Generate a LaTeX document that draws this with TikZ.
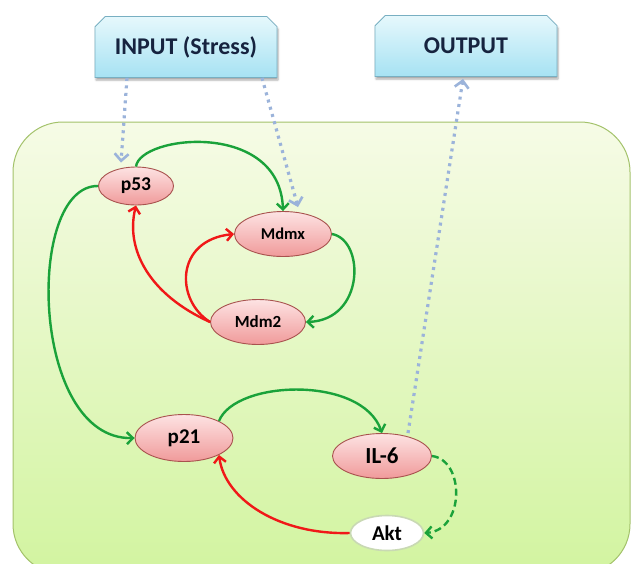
\documentclass[tikz,border=0pt]{standalone}
\usepackage{fontspec}
\setmainfont{Carlito}
\usetikzlibrary{arrows.meta,shapes.misc,shapes.geometric,shadows.blur}

\definecolor{boxtop}{HTML}{E6F8FC}
\definecolor{boxbot}{HTML}{A6E2F3}
\definecolor{boxedge}{HTML}{78AFC2}
\definecolor{boxtext}{HTML}{16233F}
\definecolor{celltop}{HTML}{F6FBE6}
\definecolor{cellbot}{HTML}{D2F4A0}
\definecolor{celledge}{HTML}{A3C26A}
\definecolor{geneedge}{HTML}{A8524E}
\definecolor{genetop}{HTML}{FDE3E3}
\definecolor{genebot}{HTML}{F09A9A}
\definecolor{aktedge}{HTML}{C9D9B4}
\definecolor{actgreen}{HTML}{1AA23A}
\definecolor{inhred}{HTML}{F01818}
\definecolor{signalblue}{HTML}{9BB3DA}

\begin{document}
\begin{tikzpicture}[x=1pt,y=-1pt,
  iobox/.style={chamfered rectangle,
    chamfered rectangle corners={north west,north east},
    chamfered rectangle xsep=7pt,
    draw=boxedge, line width=0.8pt,
    top color=boxtop, bottom color=boxbot,
    minimum width=182pt, minimum height=61pt, inner sep=0pt,
    text=boxtext, font=\bfseries\fontsize{24}{27}\selectfont,
    blur shadow={shadow xshift=1pt, shadow yshift=-2.5pt, shadow blur radius=2pt, shadow opacity=35}},
  gene/.style={ellipse, draw=geneedge, line width=0.9pt,
    top color=genetop, bottom color=genebot,
    inner sep=0pt, font=\bfseries},
  aktnode/.style={ellipse, draw=aktedge, line width=1.6pt, fill=white,
    inner sep=0pt, font=\bfseries},
  act/.style={draw=actgreen, line width=2.4pt,
    -{Straight Barb[length=6pt,width=12pt]}},
  inh/.style={draw=inhred, line width=2.4pt,
    -{Straight Barb[length=6pt,width=12pt]}},
  signal/.style={draw=signalblue, line width=3.2pt,
    dash pattern=on 3pt off 4.5pt,
    -{Straight Barb[length=7pt,width=14pt,line width=2.6pt]}}
]
\useasboundingbox (0,0) rectangle (631,563);

% cell compartment
\path[draw=celledge, line width=1pt, top color=celltop, bottom color=cellbot,
  rounded corners=50pt] (13,122) rectangle (630,574);

% input / output boxes
\node[iobox] (input) at (186,47) {INPUT (Stress)};
\node[iobox] (output) at (466,46) {OUTPUT};

% molecular species
\node[gene, minimum width=75pt, minimum height=38pt, font=\bfseries\fontsize{19.5}{21}\selectfont] (p53) at (136,186) {p53};
\node[gene, minimum width=97pt, minimum height=45pt, font=\bfseries\fontsize{16.5}{18}\selectfont] (mdmx) at (283,234) {Mdmx};
\node[gene, minimum width=95pt, minimum height=45pt, font=\bfseries\fontsize{17}{19}\selectfont] (mdm2) at (258,322) {Mdm2};
\node[gene, minimum width=98pt, minimum height=47pt, font=\bfseries\fontsize{21}{23}\selectfont] (p21) at (184,438) {p21};
\node[gene, minimum width=99pt, minimum height=45pt, font=\bfseries\fontsize{23}{25}\selectfont] (il6) at (382,456) {IL-6};
\node[aktnode, minimum width=73pt, minimum height=35pt, font=\bfseries\fontsize{21}{23}\selectfont] (akt) at (387,533) {Akt};

% stress input and cytokine output
\draw[signal] ([xshift=-59pt]input.south) -- ([xshift=-15pt,yshift=4pt]p53.north);
\draw[signal] ([xshift=76pt]input.south) -- ([xshift=15pt,yshift=4pt]mdmx.north);
\draw[signal] ([xshift=26pt]il6.north) -- ([xshift=-3pt,yshift=-2pt]output.south);

% activation
\draw[act] (p53.north) .. controls (140,135) and (280,120) .. (mdmx.north);
\draw[act] (p53.west) .. controls (25,185) and (30,440) .. (p21.west);
\draw[act] (mdmx.east) .. controls (365,240) and (365,320) .. (mdm2.east);
\draw[act] (p21.north east) .. controls (235,380) and (362,375) .. (il6.north);
\draw[act, dash pattern=on 7pt off 4pt] (il6.east) .. controls (465,460) and (465,530) .. (akt.east);

% inhibition
\draw[inh] (mdm2.west) .. controls (150,295) and (125,250) .. (p53.south);
\draw[inh] (mdm2.west) .. controls (175,300) and (175,240) .. (mdmx.west);
\draw[inh] (akt.west) .. controls (280,535) and (225,500) .. (p21.south east);
\end{tikzpicture}
\end{document}
